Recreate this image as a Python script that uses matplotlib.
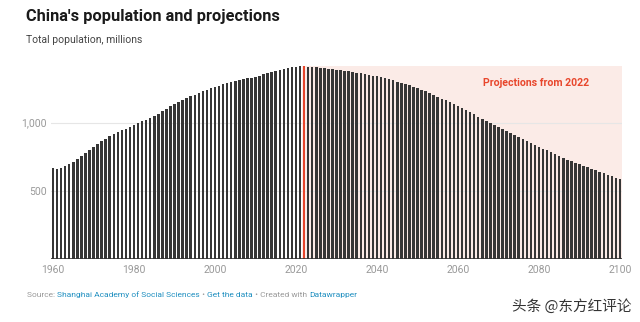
import matplotlib
matplotlib.use("Agg")
import matplotlib.pyplot as plt
import matplotlib.ticker as mticker

# data (millions)
YEARS = list(range(1960, 2101))
POP_HIST = [
    667, 660, 666, 682, 698, 715, 735, 755, 775, 796,   # 1960s
    818, 841, 862, 882, 900, 916, 931, 943, 956, 969,   # 1970s
    981, 994, 1009, 1023, 1036, 1051, 1067, 1084, 1102, 1119,  # 1980s
    1135, 1150, 1165, 1178, 1192, 1205, 1218, 1230, 1242, 1253,  # 1990s
    1263, 1272, 1280, 1288, 1296, 1304, 1311, 1318, 1325, 1331,  # 2000s
    1338, 1345, 1354, 1363, 1372, 1380, 1387, 1396, 1403, 1408,  # 2010s
    1411, 1413,                                           # 2020-2021
]
POP_2022 = 1412
POP_PROJ = [
    1410, 1408, 1405, 1402, 1399, 1396, 1392, 1388,       # 2023-2030
    1384, 1380, 1376, 1371, 1366, 1361, 1356, 1350, 1345, 1339,  # 2031-2040
    1333, 1326, 1318, 1310, 1301, 1292, 1283, 1273, 1263, 1252,  # 2041-2050
    1241, 1229, 1217, 1204, 1191, 1177, 1163, 1149, 1135, 1120,  # 2051-2060
    1105, 1090, 1075, 1060, 1045, 1030, 1015, 1000, 985, 970,    # 2061-2070
    955, 940, 925, 910, 895, 880, 866, 852, 838, 824,            # 2071-2080
    810, 797, 784, 771, 752, 740, 729, 717, 706, 694,            # 2081-2090
    683, 672, 661, 650, 639, 628, 617, 606, 596, 587,            # 2091-2100
]
POPULATION = POP_HIST + [POP_2022] + POP_PROJ
PROJ_START = 2022
X_TICKS = [1960, 1980, 2000, 2020, 2040, 2060, 2080, 2100]
Y_TICKS = [500, 1000]

TITLE = "China's population and projections"
SUBTITLE = "Total population, millions"
ANNOTATION = "Projections from 2022"

BAR_COLOR = "#363636"
RED = "#e8462c"
SHADE = "#fbebe7"
GREY = "#999999"
BLUE = "#1f8fc0"

plt.rcParams["font.family"] = ["Roboto", "DejaVu Sans"]

fig = plt.figure(figsize=(6.4, 3.22), dpi=100)
ax = fig.add_axes([51 / 640, (322 - 259) / 322, 571 / 640, 193.6 / 322])

colors = [RED if y == PROJ_START else BAR_COLOR for y in YEARS]
ax.bar(YEARS, POPULATION, width=0.62, color=colors, zorder=3, linewidth=0)

# projection shading
ax.fill_between([PROJ_START - 0.5, YEARS[-1] + 0.4], 0, max(POPULATION),
                color=SHADE, zorder=1, linewidth=0)
ax.text(2066.2, 1292, ANNOTATION, color=RED, fontsize=7.6, fontweight="bold",
        ha="left", va="center", zorder=4)

ax.set_xlim(1959.5, 2100.5)
ax.set_ylim(0, 1420)
ax.set_xticks(X_TICKS)
ax.set_yticks(Y_TICKS)
ax.yaxis.set_major_formatter(mticker.FuncFormatter(lambda v, _: f"{v:,.0f}"))
ax.tick_params(length=0, labelsize=7.5, labelcolor=GREY)
ax.tick_params(axis="x", pad=4)
ax.tick_params(axis="y", pad=3)
ax.grid(axis="y", color="#e6e6e6", linewidth=0.8, zorder=0)
ax.axhline(0, color="#333333", linewidth=1.2, zorder=4)
for s in ax.spines.values():
    s.set_visible(False)

fig.text(26 / 640, 1 - 16 / 322, TITLE, fontsize=11.8, fontweight="bold",
         color="#1a1a1a", va="center")
fig.text(26 / 640, 1 - 40 / 322, SUBTITLE, fontsize=7.5, color="#444444",
         va="center")

# footer with mixed colours
fig.canvas.draw()
renderer = fig.canvas.get_renderer()
pieces = [("Source: ", GREY), ("Shanghai Academy of Social Sciences", BLUE),
          (" \u2022 ", GREY), ("Get the data", BLUE),
          (" \u2022 Created with ", GREY), ("Datawrapper", BLUE)]
x = 27
for txt, col in pieces:
    t = fig.text(x / 640, 1 - 295 / 322, txt, fontsize=6, color=col, va="center")
    x = t.get_window_extent(renderer).x1

fig.text(632 / 640, 1 - 306 / 322, "头条 @东方红评论", fontsize=10.5,
         color="#333333", ha="right", va="center",
         family=["Noto Sans CJK SC", "DejaVu Sans"])

fig.savefig("out.png", dpi=100)
